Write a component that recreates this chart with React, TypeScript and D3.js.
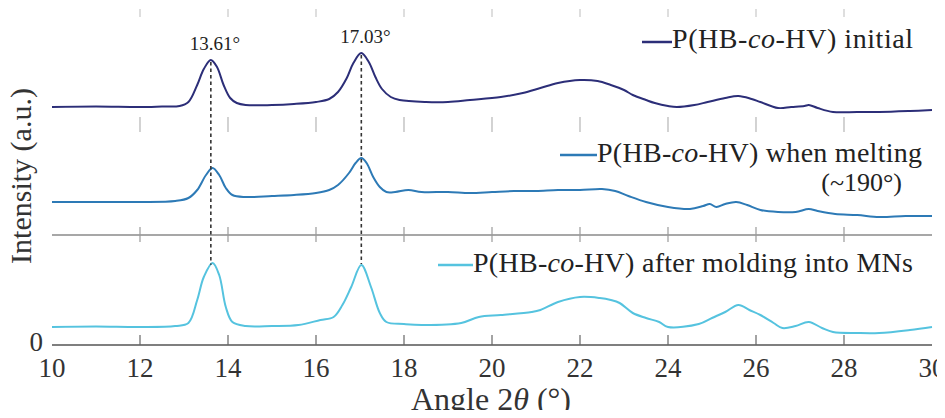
import React from 'react';
import * as d3 from 'd3';

// angle 2θ (degrees) and intensity (a.u.), one list per pattern
const initialAngle = [10, 11, 12, 12.5, 12.9, 13.1, 13.3, 13.45, 13.61, 13.75, 13.9, 14.05, 14.2, 14.4, 15, 15.5, 16, 16.3, 16.5, 16.7, 16.85, 17.03, 17.2, 17.35, 17.5, 17.7, 17.9, 18.5, 19, 19.5, 20.2, 20.7, 21.1, 21.5, 22, 22.4, 22.7, 23, 23.2, 23.5, 23.7, 24, 24.2, 24.6, 24.9, 25.3, 25.6, 25.9, 26.1, 26.5, 26.8, 27.1, 27.2, 27.4, 27.75, 28.3, 28.8, 29.5, 30];
const initialValue = [18, 18.5, 18, 18.5, 19, 23, 40, 56, 65, 58, 40, 27, 22, 20, 20, 21, 23, 26, 33, 47, 62, 72, 63, 48, 36, 28, 25, 23, 23, 25, 28, 32, 37, 42, 45, 44, 40, 35, 30, 25, 22, 19, 18, 20, 23, 27, 29, 26, 23, 17, 18, 19, 20, 17, 13, 13, 13, 14, 15];

const meltAngle = [10, 11, 12, 12.8, 13.1, 13.3, 13.5, 13.65, 13.8, 13.95, 14.1, 14.4, 15, 15.5, 16, 16.3, 16.5, 16.75, 16.9, 17.03, 17.15, 17.3, 17.45, 17.6, 17.8, 18.1, 18.4, 19, 19.5, 20, 20.5, 21, 21.5, 22, 22.5, 22.8, 23.1, 23.5, 24, 24.5, 24.8, 24.95, 25.1, 25.3, 25.55, 25.8, 26.1, 26.5, 26.9, 27.2, 27.4, 27.8, 28.3, 28.8, 29.4, 30];
const meltValue = [33, 33, 33, 34, 37, 45, 60, 67, 60, 47, 40, 38, 39, 40, 42, 45, 50, 62, 72, 77, 72, 58, 48, 43, 43, 45, 43, 43, 42, 43, 44, 44, 45, 45, 46, 44, 39, 33, 28, 26, 29, 31, 28, 31, 33, 30, 25, 23, 23, 26, 24, 21, 20, 18, 19, 19];

const moldAngle = [10, 11, 12, 12.8, 13.1, 13.3, 13.45, 13.65, 13.8, 13.95, 14.1, 14.4, 15, 15.6, 16.1, 16.4, 16.6, 16.8, 17.03, 17.25, 17.45, 17.6, 18, 18.4, 19.3, 19.7, 20.2, 20.9, 21.1, 21.5, 22, 22.45, 22.7, 22.9, 23.2, 23.5, 23.8, 24, 24.7, 25, 25.3, 25.6, 25.85, 26.1, 26.4, 26.6, 26.9, 27.2, 27.5, 27.75, 28.3, 28.8, 29.5, 30];
const moldValue = [18, 18.5, 18, 19, 22, 45, 68, 82, 70, 38, 23, 19, 19, 20, 25, 28, 40, 58, 80, 58, 32, 23, 21, 20, 22, 28, 30, 33, 35, 43, 48, 47, 45, 42, 32, 27, 23, 18, 21, 27, 33, 40, 35, 30, 22, 17, 19, 23, 17, 13, 12, 12, 15, 18];

const seriesNames = ['initial', 'when melting', 'after molding into MNs'];
const seriesOffsets = [220, 110, 0];
const xTicks = [10, 12, 14, 16, 18, 20, 22, 24, 26, 28, 30];
const peakAngles = [13.61, 17.03];
const peakLabels = ['13.61°', '17.03°'];

const colors = ['#2c2e78', '#2d7ab6', '#55c3df'];
const font = "'Liberation Serif', 'DejaVu Serif', serif";

export default function App() {
  const width = 945;
  const height = 418;

  const x = d3.scaleLinear().domain([10, 30]).range([52, 932]);
  const y = d3.scaleLinear().domain([0, 330]).range([345, 15]);

  const series = [
    { angle: initialAngle, value: initialValue },
    { angle: meltAngle, value: meltValue },
    { angle: moldAngle, value: moldValue },
  ].map((s, i) => s.angle.map((a, j) => [a, s.value[j] + seriesOffsets[i]] as [number, number]));

  const line = d3.line<[number, number]>()
    .x(d => x(d[0]))
    .y(d => y(d[1]))
    .curve(d3.curveCatmullRom.alpha(0.5));

  // value of a pattern at a given angle (linear between read points)
  const valueAt = (pts: [number, number][], a: number) => {
    const i = d3.bisector((d: [number, number]) => d[0]).left(pts, a);
    if (i <= 0) return pts[0][1];
    const p0 = pts[i - 1], p1 = pts[i];
    return p0[1] + (p1[1] - p0[1]) * (a - p0[0]) / (p1[0] - p0[0]);
  };

  const innerTicks = xTicks.slice(1, -1);

  // legend entries: line start/end, text baseline, text width
  const legends = [
    { x0: 642, x1: 672, ly: 42, ty: 48, w: 241 },
    { x0: 560, x1: 597, ly: 155, ty: 162, w: 325 },
    { x0: 438, x1: 473, ly: 265, ty: 272, w: 440 },
  ];

  return (
    <svg width={width} height={height} style={{ display: 'block', margin: -8, fontFamily: font }}>
      <rect width={width} height={height} fill="#fff" />

      {/* panel boundaries */}
      {innerTicks.map(t => (
        <line key={'top' + t} x1={x(t)} x2={x(t)} y1={9} y2={17} stroke="#c8c8c8" strokeWidth={1.2} />
      ))}
      {innerTicks.map(t => (
        <line key={'b1' + t} x1={x(t)} x2={x(t)} y1={y(220) - 8} y2={y(220) + 7} stroke="#b5b5b5" strokeWidth={1.2} />
      ))}
      <line x1={x(10)} x2={x(30)} y1={y(110)} y2={y(110)} stroke="#8a8a8a" strokeWidth={1.5} />
      {innerTicks.map(t => (
        <line key={'b2' + t} x1={x(t)} x2={x(t)} y1={y(110) - 8} y2={y(110) + 7} stroke="#9a9a9a" strokeWidth={1.2} />
      ))}
      <line x1={x(10)} x2={x(30)} y1={y(0)} y2={y(0)} stroke="#555" strokeWidth={1.5} />
      {innerTicks.map(t => (
        <line key={'b3' + t} x1={x(t)} x2={x(t)} y1={y(0) - 10} y2={y(0)} stroke="#666" strokeWidth={1.2} />
      ))}

      {/* patterns */}
      {series.map((pts, i) => (
        <path key={i} d={line(pts) ?? ''} fill="none" stroke={colors[i]} strokeWidth={2} strokeLinejoin="round" />
      ))}

      {/* peak markers */}
      {peakAngles.map((a, i) => {
        const top = valueAt(series[0], a);
        const bottom = valueAt(series[2], a);
        return (
          <g key={a}>
            <line x1={x(a)} x2={x(a)} y1={y(top) + 2} y2={y(bottom) - 1} stroke="#333" strokeWidth={1.6} strokeDasharray="3.5,3" />
            <text x={x(a) + 4} y={y(top) - 10} textAnchor="middle" fontSize={19} fill="#222">{peakLabels[i]}</text>
          </g>
        );
      })}

      {/* legends */}
      {legends.map((l, i) => (
        <g key={i}>
          <line x1={l.x0} x2={l.x1} y1={l.ly} y2={l.ly} stroke={colors[i]} strokeWidth={2.5} />
          <text x={l.x1} y={l.ty} fontSize={28} fill="#222" textLength={l.w} lengthAdjust="spacing">
            P(HB-<tspan fontStyle="italic">co</tspan>-HV) {seriesNames[i]}
          </text>
        </g>
      ))}
      <text x={902} y={191} textAnchor="end" fontSize={26} fill="#222">(~190°)</text>

      {/* x axis labels */}
      {xTicks.map(t => (
        <text key={t} x={x(t)} y={377} textAnchor="middle" fontSize={27} fill="#333">{t}</text>
      ))}
      <text x={43} y={351} textAnchor="end" fontSize={27} fill="#333">0</text>
      <text x={491} y={410} textAnchor="middle" fontSize={32} fill="#333">
        Angle 2<tspan fontStyle="italic">θ</tspan> (°)
      </text>
      <text transform="translate(31,176) rotate(-90)" textAnchor="middle" fontSize={30} fill="#333">
        Intensity (a.u.)
      </text>
    </svg>
  );
}
